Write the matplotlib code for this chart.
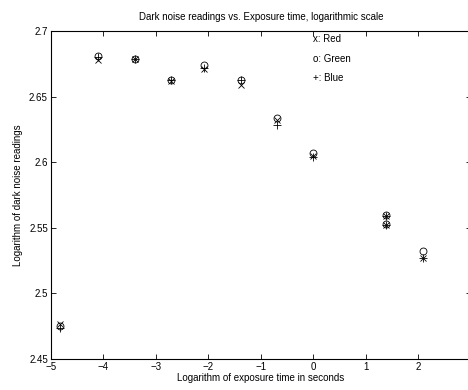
import numpy as np
import matplotlib
matplotlib.use("Agg")
import matplotlib.pyplot as plt

plt.rcParams["font.family"] = ["Liberation Sans", "DejaVu Sans"]

# exposure times in seconds (two readings at 4 s)
exposure = [1/125., 1/60., 1/30., 1/15., 1/8., 1/4., 1/2., 1., 4., 4., 8.]
red = [2.477, 2.678, 2.679, 2.662, 2.671, 2.659, 2.632, 2.605, 2.559, 2.552, 2.527]
green = [2.475, 2.681, 2.679, 2.663, 2.674, 2.663, 2.634, 2.607, 2.560, 2.553, 2.532]
blue = [2.474, 2.680, 2.679, 2.663, 2.672, 2.663, 2.628, 2.604, 2.559, 2.552, 2.527]

legend_text = ["x: Red", "o: Green", "+: Blue"]
legend_y = [2.694, 2.679, 2.664]

x = np.log(exposure)

fig = plt.figure(figsize=(4.68, 3.90), dpi=100)
ax = fig.add_axes([0.1083, 0.0795, 0.898, 0.841])

ms = 5
ax.plot(x, red, "x", color="k", ms=ms, mew=0.6)
ax.plot(x, green, "o", color="k", mfc="none", ms=ms, mew=0.6)
ax.plot(x, blue, "+", color="k", ms=ms + 1, mew=0.6)

for t, ty in zip(legend_text, legend_y):
    ax.text(0, ty, t, fontsize=7, va="center", ha="left")

ax.set_xlim(-5, 3)
ax.set_ylim(2.45, 2.7)
# the label for 3 falls outside the (cropped) picture
ax.set_xticks([-5, -4, -3, -2, -1, 0, 1, 2])
ax.set_yticks([2.45, 2.5, 2.55, 2.6, 2.65, 2.7])
ax.set_yticklabels(["2.45", "2.5", "2.55", "2.6", "2.65", "2.7"])
ax.tick_params(direction="in", top=True, right=True, length=3.5, width=0.6,
               labelsize=7, pad=2)
for s in ax.spines.values():
    s.set_linewidth(0.8)

ax.set_title("Dark noise readings vs. Exposure time, logarithmic scale",
             fontsize=7, pad=8)
ax.set_xlabel("Logarithm of exposure time in seconds", fontsize=7, labelpad=1)
ax.set_ylabel("Logarithm of dark noise readings", fontsize=7, labelpad=4)

fig.savefig("out.png", dpi=100)
